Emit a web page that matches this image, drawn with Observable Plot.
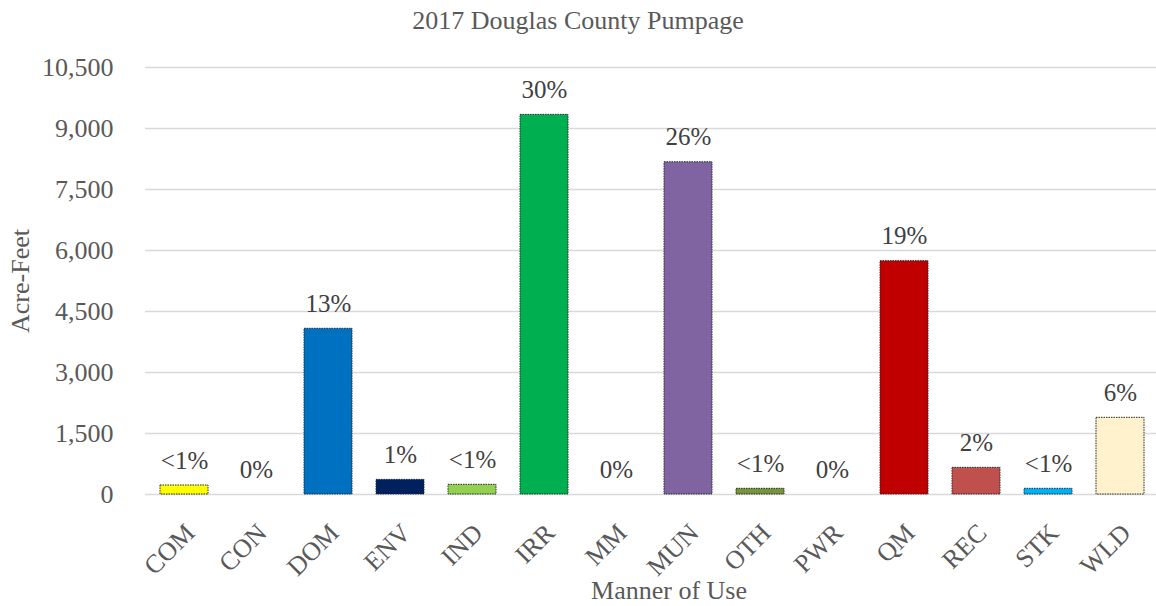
<!DOCTYPE html>
<html>
<head>
<meta charset="utf-8">
<script src="https://cdn.jsdelivr.net/npm/d3@7"></script>
<script src="https://cdn.jsdelivr.net/npm/@observablehq/plot@0.6"></script>
<style>
  html, body { margin: 0; padding: 0; background: #fff; overflow: hidden; }
  #wrap { position: relative; width: 1156px; height: 606px; }
  #title { position: absolute; top: 8px; left: 0; width: 1156px; text-align: center;
           font-family: "Liberation Serif", "Times New Roman", serif; font-size: 26px; line-height: 26px; color: #595959; }
  #chart { position: absolute; top: 0; left: 0; }
  #chart svg, #chart svg text { font-family: "Liberation Serif", "Times New Roman", serif !important; }
</style>
</head>
<body>
<div id="wrap">
  <div id="chart"></div>
  <div id="title">2017 Douglas County Pumpage</div>
</div>
<script>
const categories = ["COM","CON","DOM","ENV","IND","IRR","MM","MUN","OTH","PWR","QM","REC","STK","WLD"];
const acreFeet = [221, 0, 4075, 360, 238, 9335, 0, 8170, 140, 0, 5737, 656, 140, 1885];
const shareLabels = ["<1%","0%","13%","1%","<1%","30%","0%","26%","<1%","0%","19%","2%","<1%","6%"];
const barColors = ["#FFFF00","#FFFFFF","#0070C0","#002060","#92D050","#00B050","#FFFFFF","#8064A2","#77933C","#FFFFFF","#C00000","#C0504D","#00B0F0","#FFF2CC"];
const yTicks = [0, 1500, 3000, 4500, 6000, 7500, 9000, 10500];
const xTitle = "Manner of Use";
const yTitle = "Acre-Feet";

const data = categories.map((c, i) => ({cat: c, value: acreFeet[i], label: shareLabels[i], color: barColors[i]}));

const chart = Plot.plot({
  width: 1156,
  height: 606,
  marginLeft: 145,
  marginRight: 0,
  marginTop: 67,
  marginBottom: 112,
  style: {fontFamily: "Liberation Serif", fontSize: "26px", color: "#595959", background: "white", overflow: "visible"},
  x: {domain: categories, range: [145, 1160], paddingInner: 0.33, paddingOuter: 0.165, label: null},
  y: {domain: [0, 10500], label: null},
  color: {type: "identity"},
  marks: [
    Plot.ruleY(yTicks, {stroke: "#d9d9d9", strokeWidth: 1.5}),
    Plot.barY(data.filter(d => d.value > 0), {x: "cat", y: "value", fill: "color", stroke: "#262626", strokeWidth: 1, strokeDasharray: "1.5,1"}),
    Plot.text(data, {x: "cat", y: "value", text: "label", dy: -25, fill: "#404040", fontSize: 25}),
    Plot.axisY({ticks: yTicks, tickSize: 0, tickPadding: 32, tickFormat: d3.format(","), fontSize: 26, label: null}),
    Plot.axisX({tickRotate: -45, tickSize: 0, tickPadding: 34, dx: 6, fontSize: 26, label: null}),
    Plot.text([xTitle], {frameAnchor: "bottom", lineAnchor: "middle", textAnchor: "middle", dx: 18, dy: 96, fill: "#595959", fontSize: 26}),
    Plot.text([yTitle], {frameAnchor: "left", lineAnchor: "middle", textAnchor: "middle", rotate: -90, dx: -125, fill: "#595959", fontSize: 26})
  ]
});
document.getElementById("chart").appendChild(chart);
</script>
</body>
</html>
